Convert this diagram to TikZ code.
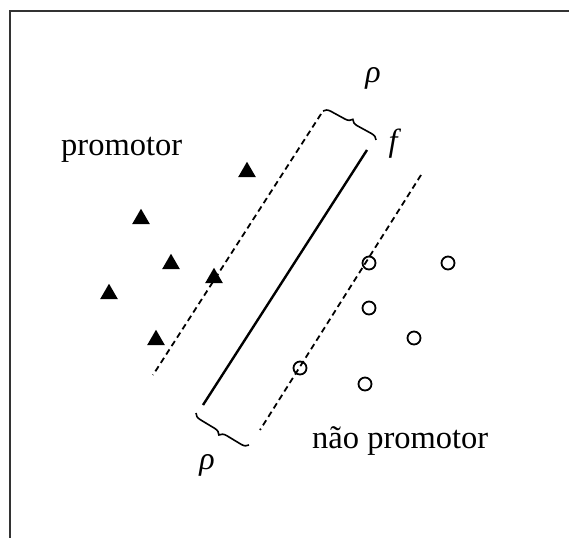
\documentclass[tikz,border=0pt]{standalone}
\usepackage{fontspec}
\setmainfont{Liberation Serif}
\usetikzlibrary{shapes.geometric,decorations.pathreplacing}
\begin{document}
\begin{tikzpicture}[x=1pt,y=-1pt,
  classtext/.style={inner sep=0pt,font=\fontsize{32.5}{38}\selectfont},
  symtext/.style={inner sep=0pt,font=\fontsize{32}{38}\selectfont\itshape},
  postri/.style={regular polygon,regular polygon sides=3,fill=black,draw=none,
    minimum size=20.5pt,inner sep=0pt},
  negcirc/.style={circle,draw=black,line width=1.8pt,minimum size=13pt,inner sep=0pt},
  hyper/.style={line width=2.4pt},
  marginline/.style={line width=1.8pt,dash pattern=on 6pt off 4pt},
  bracket/.style={line width=1.6pt,decorate,decoration={brace,amplitude=7pt}},
  frameline/.style={line width=2.6pt,black!80}]
\useasboundingbox (0,0) rectangle (569,538);

% partial frame
\coordinate (fr1) at (569,11);
\coordinate (fr2) at (10,11);
\coordinate (fr3) at (10,538);
\draw[frameline] (fr1) -- (fr2) -- (fr3);

% class labels
\node[classtext,anchor=base west] (lpos) at (61,155) {promotor};
\node[classtext,anchor=base west] (lneg) at (312,448) {não promotor};

% separating line and margins
\coordinate (h1) at (367,150);
\coordinate (h2) at (203,405);
\coordinate (m1a) at (321,114);
\coordinate (m1b) at (153,375);
\coordinate (m2a) at (421,175);
\coordinate (m2b) at (260,430);
\draw[hyper] (h1) -- (h2);
\draw[marginline] (m1a) -- (m1b);
\draw[marginline] (m2a) -- (m2b);

% margin braces
\coordinate (b1a) at (323,111);
\coordinate (b1b) at (376,140);
\coordinate (b2a) at (196,413);
\coordinate (b2b) at (249,445);
\draw[bracket] (b1a) -- (b1b);
\draw[bracket] (b2b) -- (b2a);
\node[symtext] (rho1) at (373,78) {ρ};
\node[symtext] (rho2) at (207,465) {ρ};
\node[symtext] (f) at (393,144) {f};

% positive samples
\node[postri] (p1) at (247,172) {};
\node[postri] (p2) at (141,219) {};
\node[postri] (p3) at (171,264) {};
\node[postri] (p4) at (214,278) {};
\node[postri] (p5) at (109,294) {};
\node[postri] (p6) at (156,340) {};

% negative samples
\node[negcirc] (n1) at (369,263) {};
\node[negcirc] (n2) at (448,263) {};
\node[negcirc] (n3) at (369,308) {};
\node[negcirc] (n4) at (414,338) {};
\node[negcirc] (n5) at (300,368) {};
\node[negcirc] (n6) at (365,384) {};
\end{tikzpicture}
\end{document}
